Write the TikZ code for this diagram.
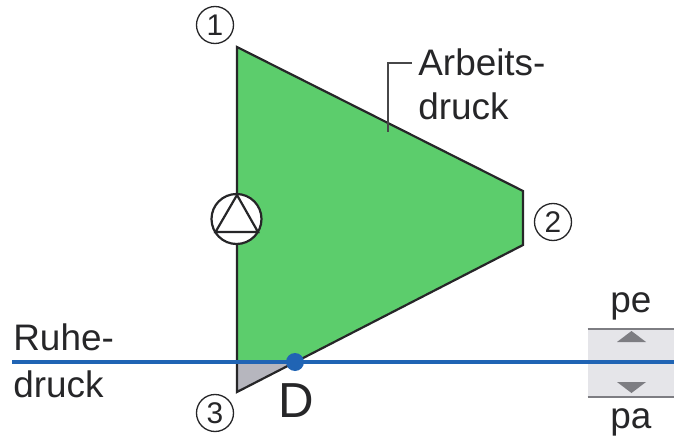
\documentclass[tikz,border=0pt]{standalone}
\usepackage{fontspec}
\setmainfont{Liberation Sans}
\usetikzlibrary{calc}
\definecolor{ink}{RGB}{38,38,40}
\definecolor{workgreen}{RGB}{92,205,108}
\definecolor{restblue}{RGB}{32,100,180}
\definecolor{wedgegray}{RGB}{182,182,190}
\definecolor{panelgray}{RGB}{229,229,233}
\definecolor{rulegray}{RGB}{125,125,130}

\begin{document}
\begin{tikzpicture}[
  x=1cm,y=1cm,
  edge/.style={draw=ink, line width=1.25pt, line join=miter},
  lbl/.style={anchor=base west, inner sep=0pt, text=ink,
              font=\fontsize{21}{25}\selectfont},
  port/.style={circle, draw=ink, line width=0.75pt, inner sep=0pt,
               minimum size=0.74cm, text=ink,
               font=\fontsize{17}{20}\selectfont},
  gaugeline/.style={draw=rulegray, line width=1.2pt},
  gaugetip/.style={fill=rulegray}
]
\useasboundingbox (0,0) rectangle (13.68,8.74);

% Corners of the pressure field.
\coordinate (top) at (4.74,7.80);
\coordinate (right) at (10.46,4.92);
\coordinate (lower) at (10.46,3.84);
\coordinate (tip) at (4.74,0.90);
\coordinate (wedgeL) at (4.74,1.50);
\coordinate (wedgeR) at (5.90,1.50);

\fill[workgreen] (top) -- (right) -- (lower) -- (wedgeR) -- (wedgeL) -- cycle;
\fill[wedgegray] (wedgeL) -- (wedgeR) -- (tip) -- cycle;
\draw[edge] (tip) -- (top) -- (right) -- (lower) -- cycle;

% Pump symbol on the left edge.
\node[circle, draw=ink, fill=white, line width=1.25pt, inner sep=0pt,
      minimum size=1.00cm] (pump) at (4.73,4.36) {};
\coordinate (pumpA) at (4.74,4.84);
\coordinate (pumpB) at (5.16,4.10);
\coordinate (pumpC) at (4.31,4.10);
\draw[edge] (pumpA) -- (pumpB) -- (pumpC) -- cycle;

\node[port] (portA) at (4.30,8.24) {1};
\node[port] (portB) at (11.06,4.30) {2};
\node[port] (portC) at (4.30,0.48) {3};

% Working pressure label with its leader.
\node[lbl] (arbeits) at (8.36,7.22) {Arbeits-};
\node[lbl] (druckA) at (8.36,6.34) {druck};
\coordinate (foot) at (7.76,6.10);
\draw[draw=ink!85, line width=0.8pt] (foot) |- ([xshift=-1.2mm]arbeits.west);

% Gauge on the right, the blue line ends at its edge.
\node[rectangle, fill=panelgray, inner sep=0pt, minimum width=1.72cm,
      minimum height=1.34cm] (gauge) at (12.62,1.48) {};
\draw[gaugeline] (gauge.north west) -- (gauge.north east);
\draw[gaugeline] (gauge.south west) -- (gauge.south east);
\fill[gaugetip] (12.34,1.90) -- (12.92,1.90) -- (12.63,2.12) -- cycle;
\fill[gaugetip] (12.34,1.10) -- (12.92,1.10) -- (12.63,0.88) -- cycle;

\node[lbl] (pe) at (12.20,2.50) {pe};
\node[lbl] (pa) at (12.20,0.18) {pa};

% Rest pressure line.
\coordinate (restL) at (0.24,1.50);
\draw[restblue, line width=2.2pt] (restL) -- (restL -| gauge.east);
\node[circle, fill=restblue, inner sep=0pt, minimum size=0.36cm] (dot) at (5.90,1.50) {};

\node[lbl] (ruhe) at (0.26,1.74) {Ruhe-};
\node[lbl] (druckB) at (0.26,0.80) {druck};
\node[lbl, font=\fontsize{28}{32}\selectfont] (dlabel) at (5.56,0.40) {D};
\end{tikzpicture}
\end{document}
